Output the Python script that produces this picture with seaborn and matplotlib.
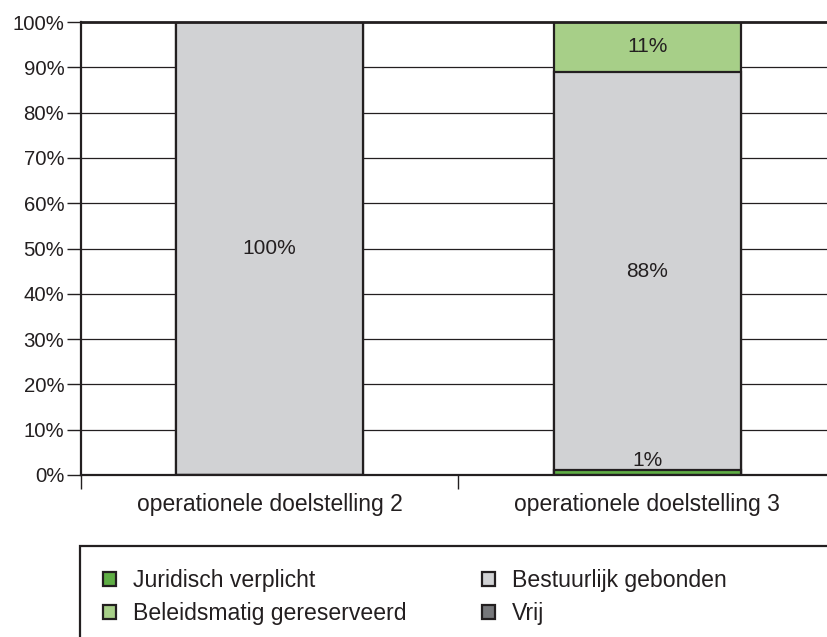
import matplotlib
matplotlib.use("Agg")
import matplotlib.pyplot as plt
import seaborn as sns
import numpy as np
import pandas as pd
from matplotlib.patches import Patch, Rectangle

categories = ["operationele doelstelling 2", "operationele doelstelling 3"]
series_names = ["Juridisch verplicht", "Bestuurlijk gebonden", "Beleidsmatig gereserveerd", "Vrij"]
juridisch = [0, 1]
bestuurlijk = [100, 88]
beleidsmatig = [0, 11]
vrij = [0, 0]
labels_juridisch = ["", "1%"]
labels_bestuurlijk = ["100%", "88%"]
labels_beleidsmatig = ["", "11%"]
yticks = [0, 10, 20, 30, 40, 50, 60, 70, 80, 90, 100]
ytick_labels = ["0%", "10%", "20%", "30%", "40%", "50%", "60%", "70%", "80%", "90%", "100%"]

colors = {
    "Juridisch verplicht": "#5fae45",
    "Beleidsmatig gereserveerd": "#a7cf88",
    "Bestuurlijk gebonden": "#d1d2d4",
    "Vrij": "#77787b",
}
dark = "#231f20"

sns.set_style("white")
plt.rcParams["font.family"] = ["Liberation Sans", "DejaVu Sans"]

fig = plt.figure(figsize=(8.28, 6.37), dpi=100)
W, H = 828, 637
ax = fig.add_axes([81 / W, 1 - 475 / H, (836 - 81) / W, (475 - 22) / H])

series = [juridisch, bestuurlijk, beleidsmatig, vrij]
cum = np.cumsum(np.array(series), axis=0)
# draw from top of stack to bottom so lower segments overlay
order = [3, 2, 1, 0]
for i in order:
    name = series_names[i]
    df = pd.DataFrame({"cat": categories, "val": cum[i]})
    vals = np.array(series[i])
    if vals.sum() == 0:
        continue
    sns.barplot(data=df, x="cat", y="val", ax=ax, color=colors[name],
                width=0.495, edgecolor=dark, linewidth=1.6, saturation=1, zorder=3)

# labels
bottoms = np.vstack([np.zeros(len(categories)), cum[:-1]])
label_sets = {0: labels_juridisch, 1: labels_bestuurlijk, 2: labels_beleidsmatig}
for i, labs in label_sets.items():
    for j, lab in enumerate(labs):
        if not lab:
            continue
        center = bottoms[i][j] + series[i][j] / 2
        if series[i][j] < 5:
            ax.text(j, bottoms[i][j] + series[i][j], lab, ha="center", va="bottom",
                    fontsize=15, color=dark, zorder=5)
        else:
            ax.text(j, center, lab, ha="center", va="center", fontsize=15,
                    color=dark, zorder=5)

ax.set_xlim(-0.5, 1.5)
ax.set_ylim(0, 100)
ax.set_yticks(yticks)
ax.set_yticklabels(ytick_labels)
ax.set_xlabel("")
ax.set_ylabel("")
for y in yticks[1:-1]:
    ax.axhline(y, color=dark, lw=0.9, zorder=1)
ax.axhline(100, color=dark, lw=2.0, zorder=4, clip_on=False)

for s in ["top", "right"]:
    ax.spines[s].set_visible(False)
for s in ["left", "bottom"]:
    ax.spines[s].set_color(dark)
    ax.spines[s].set_linewidth(1.6)
    ax.spines[s].set_zorder(4)

ax.tick_params(axis="y", which="major", direction="out", length=10, width=1.0,
               color=dark, labelsize=14.7, labelcolor=dark, pad=2, left=True)
ax.set_xticks([0, 1])
ax.set_xticklabels(categories)
ax.set_xticks([-0.5, 0.5, 1.5], minor=True)
ax.tick_params(axis="x", which="major", length=0, labelsize=16.5, labelcolor=dark, pad=13)
ax.tick_params(axis="x", which="minor", direction="out", length=10, width=1.0, color=dark, bottom=True)

# legend box
fig.patches.append(Rectangle((80 / W, 1 - 700 / H), (900 - 80) / W, (700 - 546) / H,
                             transform=fig.transFigure, fill=False, edgecolor=dark,
                             lw=1.6, clip_on=False))
leg_order = ["Juridisch verplicht", "Beleidsmatig gereserveerd", "Bestuurlijk gebonden", "Vrij"]
handles = [Patch(facecolor=colors[n], edgecolor=dark, linewidth=1.6, label=n) for n in leg_order]
fig.legend(handles=handles, loc="upper left", bbox_to_anchor=(103 / W, 1 - 569 / H),
           ncol=2, frameon=False, fontsize=16.6, handlelength=0.57, handleheight=0.57,
           handletextpad=0.72, columnspacing=3.3, labelspacing=0.43, labelcolor=dark,
           borderpad=0, borderaxespad=0)

fig.savefig("out.png", dpi=100)
